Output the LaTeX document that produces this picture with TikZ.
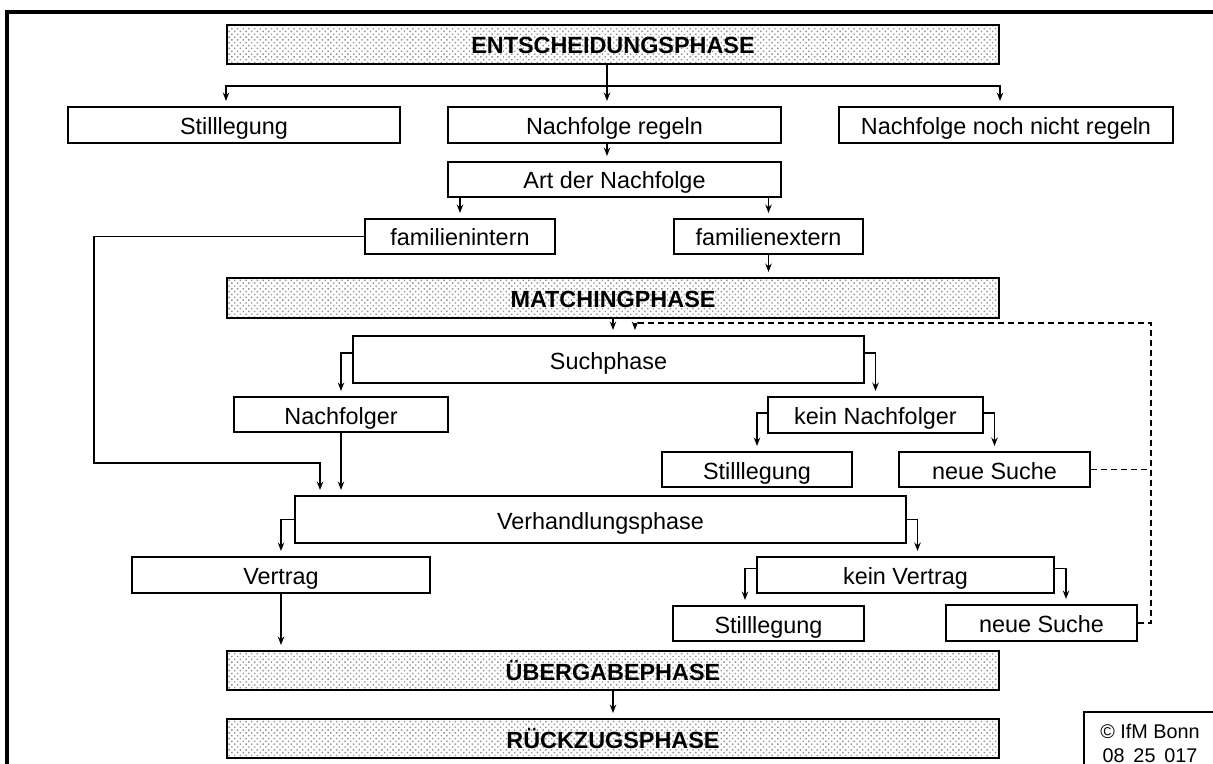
\documentclass[tikz,border=0pt]{standalone}
\usepackage{fontspec}
\setmainfont{Liberation Sans}
\usetikzlibrary{arrows.meta,patterns.meta,calc}
\tikzset{
 box/.style={draw, line width=1pt, inner sep=0pt, text height=9.5pt, text depth=0pt, font=\fontsize{11.7}{13}\selectfont},
 phase/.style={box, pattern={Dots[distance=2pt,radius=0.5pt,angle=45]}, pattern color=gray!85, font=\fontsize{11.7}{13}\selectfont\bfseries},
 ln/.style={line width=0.7pt},
 arr/.style={line width=0.7pt, -{Stealth[length=4.2pt,width=3.2pt]}, shorten >=2.5pt},
 dsh/.style={line width=0.6pt, dash pattern=on 3pt off 2pt},
 darr/.style={dsh, -{Stealth[length=4.2pt,width=3.2pt]}, shorten >=2.5pt},
}
\newcommand\bx[7]{\node[#1, minimum width={(#5-#3)*0.5pt}, minimum height={(#6-#4)*0.5pt}] (#2) at ({(#3+#5)/2},{(#4+#6)/2}) {#7};}
\begin{document}
\begin{tikzpicture}[x=0.5pt,y=-0.5pt]
\clip (0,0) rectangle (1213,764);
\fill[white] (0,0) rectangle (1213,764);
% frame
\draw[line width=1.6pt] (7,820) -- (7,12) -- (1300,12);
% boxes
\bx{phase}{ent}{227}{25}{999}{64}{ENTSCHEIDUNGSPHASE}
\bx{box}{stil}{68}{107}{400}{143}{Stilllegung}
\bx{box}{nr}{448}{107}{781}{143}{Nachfolge regeln}
\bx{box}{nnr}{839}{107}{1173}{143}{Nachfolge noch nicht regeln}
\bx{box}{art}{448}{162}{781}{197}{Art der Nachfolge}
\bx{box}{fi}{365}{219}{555}{254}{familienintern}
\bx{box}{fe}{674}{219}{863}{254}{familienextern}
\bx{phase}{match}{227}{278}{999}{318}{MATCHINGPHASE}
\bx{box}{such}{353}{336}{864}{383}{Suchphase}
\bx{box}{nf}{234}{397}{448}{432}{Nachfolger}
\bx{box}{kn}{768}{397}{983}{433}{kein Nachfolger}
\bx{box}{st2}{662}{452}{852}{487}{Stilllegung}
\bx{box}{ns1}{899}{452}{1090}{487}{neue Suche}
\bx{box}{verh}{295}{496}{906}{543}{Verhandlungsphase}
\bx{box}{vt}{132}{557}{430}{593}{Vertrag}
\bx{box}{kv}{757}{557}{1054}{593}{kein Vertrag}
\bx{box}{st3}{673}{606}{864}{641}{Stilllegung}
\bx{box}{ns2}{946}{605}{1137}{641}{neue Suche}
\bx{phase}{ueb}{227}{651}{999}{690}{ÜBERGABEPHASE}
\bx{phase}{rueck}{227}{719}{999}{758}{RÜCKZUGSPHASE}
% copyright box
\draw[line width=0.8pt] (1084,800) -- (1084,712) -- (1300,712);
\node[inner sep=0pt, align=center, font=\fontsize{9.9}{12}\selectfont] (cr) at (1150,743) {© IfM Bonn\\08\hspace{0.45em}25\hspace{0.45em}017};
% connectors top
\coordinate (j1) at (607,86);
\draw[ln] (ent.south -| j1) -- (j1);
\draw[arr] (j1) -- (nr.north -| j1);
\draw[arr] (j1) -| (stil.north -| ent.west);
\draw[arr] (j1) -| (nnr.north -| ent.east);
\draw[arr] (nr.south -| j1) -- (art.north -| j1);
\draw[arr] (art.south -| fi.north) -- (fi.north);
\draw[arr] (art.south -| fe.north) -- (fe.north);
\draw[arr] (fe.south) -- (match.north -| fe.south);
% familienintern bypass
\coordinate (c1) at (94,463);
\coordinate (c2) at (320,463);
\draw[arr] (fi.west) -| (c1) -- (c2) -- (verh.north -| c2);
% matching
\draw[arr] (match.south) -- (such.north -| match.south);
\draw[arr] ([yshift=3.25pt]such.west) -| (nf.north);
\draw[arr] ([yshift=3.25pt]such.east) -| (kn.north);
\draw[arr] ([yshift=1pt]kn.west) -| (st2.north);
\draw[arr] ([yshift=1pt]kn.east) -| (ns1.north);
\draw[arr] (nf.south) -- (verh.north -| nf.south);
% verhandlung
\draw[arr] (verh.west) -| (vt.north);
\draw[arr] (verh.east) -| ([xshift=6pt]kv.north);
\draw[arr] ([yshift=3.25pt]kv.west) -| ([xshift=-11.75pt]st3.north);
\draw[arr] ([yshift=3.25pt]kv.east) -| ([xshift=12.25pt]ns2.north);
\draw[arr] (vt.south) -- (ueb.north -| vt.south);
\draw[arr] (ueb.south) -- (rueck.north);
% dashed feedback
\coordinate (d1) at (1151,323);
\coordinate (d2) at (635,323);
\draw[dsh] (ns2.east) -| (d1) -- (d2);
\draw[darr] (d2) -- (such.north -| d2);
\draw[dsh] (ns1.east) -- (ns1.east -| d1);
\end{tikzpicture}
\end{document}
